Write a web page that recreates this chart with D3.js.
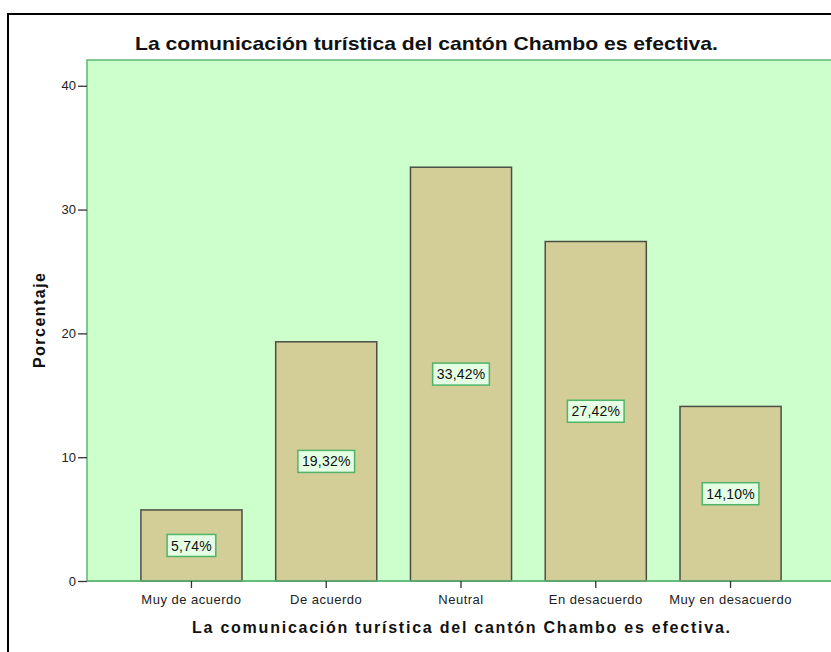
<!DOCTYPE html>
<html><head><meta charset="utf-8">
<script src="https://cdn.jsdelivr.net/npm/d3@7"></script>
<style>body{margin:0;background:#fff}svg{display:block}text{font-family:Arial,"Liberation Sans",sans-serif}</style>
</head><body>
<svg id="c" width="831" height="652"></svg>
<script>
const categories = ["Muy de acuerdo","De acuerdo","Neutral","En desacuerdo","Muy en desacuerdo"];
const values = [5.74, 19.32, 33.42, 27.42, 14.10];
const labels = ["5,74%","19,32%","33,42%","27,42%","14,10%"];
const yTicks = [0,10,20,30,40];
const titleText = "La comunicación turística del cantón Chambo es efectiva.";
const xTitle = "La comunicación turística del cantón Chambo es efectiva.";
const yTitle = "Porcentaje";

const svg = d3.select("#c");
const L = 87, R = 835, T = 60, B = 581;
svg.append("rect").attr("x",0).attr("y",0).attr("width",831).attr("height",652).attr("fill","#fff");
svg.append("rect").attr("x",8).attr("y",14).attr("width",840).attr("height",660)
  .attr("fill","none").attr("stroke","#000").attr("stroke-width",2);

const x = d3.scaleBand().domain(categories).range([L,R]).paddingInner(0.25).paddingOuter(0.4);
const y = d3.scaleLinear().domain([0,42.08]).range([B,T]);

svg.append("rect").attr("x",L).attr("y",T).attr("width",R-L).attr("height",B-T)
  .attr("fill","#ccffcc").attr("stroke","#5cb874").attr("stroke-width",1.5);

svg.selectAll("rect.bar").data(values).join("rect").attr("class","bar")
  .attr("x",(d,i)=>x(categories[i])).attr("width",x.bandwidth())
  .attr("y",d=>y(d)).attr("height",d=>y(0)-y(d))
  .attr("fill","#d3cd98").attr("stroke","#4d4d45").attr("stroke-width",1.5);

svg.append("line").attr("x1",L).attr("x2",R).attr("y1",B).attr("y2",B).attr("stroke","#5cb874").attr("stroke-width",1.5);

const ya = svg.append("g").attr("transform",`translate(${L},0)`)
  .call(d3.axisLeft(y).tickValues(yTicks).tickSize(9).tickPadding(2).tickFormat(d3.format("d")));
ya.select(".domain").remove();
ya.selectAll(".tick line").attr("stroke","#333").attr("stroke-width",1.3);
ya.selectAll(".tick text").attr("font-size",13).attr("fill","#222").attr("font-family","Arial, 'Liberation Sans', sans-serif");

const xa = svg.append("g").attr("transform",`translate(0,${B})`)
  .call(d3.axisBottom(x).tickSize(7).tickPadding(7));
xa.select(".domain").remove();
xa.selectAll(".tick line").attr("stroke","#333").attr("stroke-width",1.3);
xa.selectAll(".tick text").attr("font-size",13).attr("letter-spacing","0.5").attr("fill","#222").attr("font-family","Arial, 'Liberation Sans', sans-serif");

const lg = svg.selectAll("g.lab").data(values).join("g").attr("class","lab")
  .attr("transform",(d,i)=>`translate(${x(categories[i])+x.bandwidth()/2},${y(d/2)})`);
lg.each(function(d,i){
  const g = d3.select(this);
  const t = g.append("text").attr("text-anchor","middle").attr("dy","0.36em")
    .attr("font-size",14).attr("letter-spacing","0.2").attr("fill","#111").text(labels[i]);
  const w = t.node().getComputedTextLength();
  g.insert("rect","text").attr("x",-w/2-4).attr("y",-11).attr("width",w+8).attr("height",22)
    .attr("fill","#e4ffe4").attr("stroke","#4fb466").attr("stroke-width",1.5);
});

svg.append("text").attr("x",135).attr("y",50)
  .attr("font-size",19).attr("font-weight","bold").attr("textLength",583).attr("lengthAdjust","spacingAndGlyphs")
  .attr("fill","#111").text(titleText);
svg.append("text").attr("x",192).attr("y",633)
  .attr("font-size",16).attr("font-weight","bold").attr("textLength",538).attr("lengthAdjust","spacing")
  .attr("fill","#111").text(xTitle);
svg.append("text").attr("transform","translate(45,368) rotate(-90)")
  .attr("font-size",16).attr("font-weight","bold").attr("textLength",95).attr("lengthAdjust","spacing")
  .attr("fill","#111").text(yTitle);
</script>
</body></html>
